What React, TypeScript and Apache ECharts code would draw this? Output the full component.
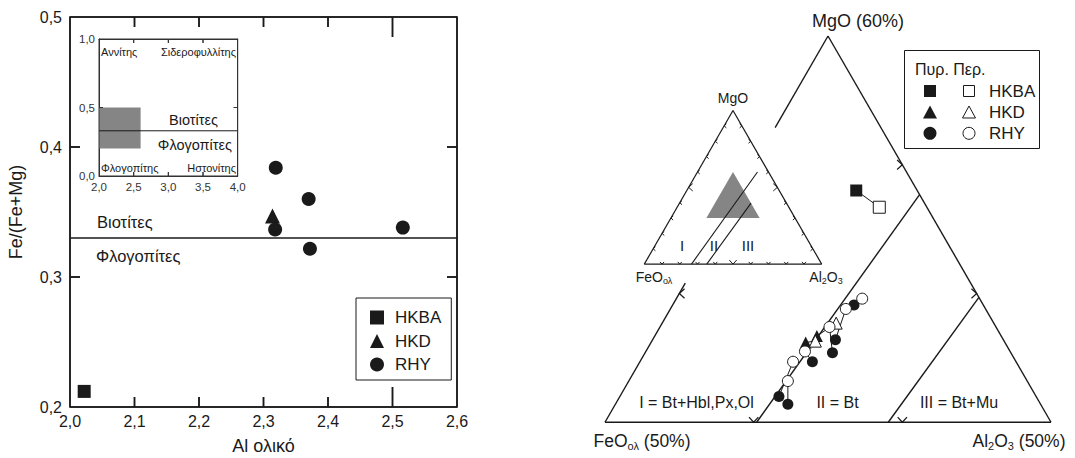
import React, { useEffect, useRef } from 'react';
import * as echarts from 'echarts';

const FONT = '"Liberation Sans", Arial, Helvetica, sans-serif';
const INK = '#1a1a1a';
const GREY = '#858585';
const H = Math.sqrt(3) / 2;

// ---------- Left diagram: Fe/(Fe+Mg) vs Al total ----------
const hkbaPoints = [[2.022, 0.212]];
const hkdPoints = [[2.314, 0.347]];
const rhyPoints = [
  [2.319, 0.384],
  [2.37, 0.36],
  [2.318, 0.3365],
  [2.372, 0.3217],
  [2.516, 0.338],
];
const bioPhlogBoundary = 0.33;
const mainXRange = [2.0, 2.6];
const mainYRange = [0.2, 0.5];
const mainXTicks = [2.1, 2.2, 2.3, 2.4, 2.5];
const mainXMajorTick = [2.5];
const mainYTicks = [0.3, 0.4];
// inset classification diagram
const insetXRange = [2.0, 4.0];
const insetYRange = [0.0, 1.0];
const insetBoxAl = [2.0, 2.6];
const insetBoxFe = [0.2, 0.5];
const insetXTicks = [2.5, 3.0, 3.5];
const insetYTicks = [0.5];

// ---------- Right diagram: MgO - FeOολ - Al2O3 (values [MgO, Al2O3], %) ----------
const hkbaCore = [[48.0, 27.9]];
const hkbaRim = [[46.7, 30.1]];
const hkdCore = [[36.2, 30.4], [36.7, 30.9]];
const hkdRim = [[36.3, 31.0], [37.7, 31.7]];
const rhyCore = [
  [39.1, 32.2],
  [36.4, 32.3],
  [35.4, 32.6],
  [34.7, 31.6],
  [32.0, 30.7],
  [31.4, 31.6],
];
const rhyRim = [
  [39.6, 32.5],
  [38.8, 31.8],
  [37.4, 31.4],
  [35.5, 30.7],
  [34.7, 30.3],
  [33.2, 30.7],
];
// field boundaries I/II and II/III
const fieldLine1 = [[0, 26.6], [60, 33.8]];
const fieldLine2 = [[0, 35.2], [39.7, 40.3]];
// enlarged window (MgO 60%, FeO 50%, Al2O3 50%)
const zoomWindow = [[60, 20], [30, 20], [30, 50]];
const WIN_MGO = 30;
const WIN_AL = 20;
const WIN_SPAN = 30;

// grid boxes (pixels)
const G_MAIN = { left: 70, top: 17, width: 387, height: 390 };
const G_INSET = { left: 99, top: 39, width: 138.7, height: 137 };

const toSmall = (p: number[]) => {
  const a = p[0] / 100;
  const b = p[1] / 100;
  return [b + a / 2, a * H];
};
const normBig = (p: number[]) => [(p[0] - WIN_MGO) / WIN_SPAN, (p[1] - WIN_AL) / WIN_SPAN];
const abToXY = (q: number[]) => [q[1] + q[0] / 2, q[0] * H];
const toBig = (p: number[]) => abToXY(normBig(p));

const clipBig = (p0: number[], p1: number[]) => {
  const A = normBig(p0);
  const B = normBig(p1);
  const fs = [(q: number[]) => q[0], (q: number[]) => q[1], (q: number[]) => 1 - q[0] - q[1]];
  let t0 = 0;
  let t1 = 1;
  for (const f of fs) {
    const v0 = f(A);
    const v1 = f(B);
    if (v0 < 0 && v1 < 0) return null;
    if (v0 < 0) t0 = Math.max(t0, v0 / (v0 - v1));
    if (v1 < 0) t1 = Math.min(t1, v0 / (v0 - v1));
  }
  const L = (t: number) => [A[0] + (B[0] - A[0]) * t, A[1] + (B[1] - A[1]) * t];
  const P = abToXY(L(t0));
  const Q = abToXY(L(t1));
  return [P[0], P[1], Q[0], Q[1]];
};

const fmt = (v: number) => v.toFixed(1).replace('.', ',');

function segSeries(xi: number, yi: number, segs: number[][], width: number, z = 2, color = INK) {
  return {
    type: 'custom',
    xAxisIndex: xi,
    yAxisIndex: yi,
    silent: true,
    z,
    data: segs,
    encode: { x: [0, 2], y: [1, 3] },
    renderItem: (params: any, api: any) => {
      const p1 = api.coord([api.value(0), api.value(1)]);
      const p2 = api.coord([api.value(2), api.value(3)]);
      return {
        type: 'line',
        shape: { x1: p1[0], y1: p1[1], x2: p2[0], y2: p2[1] },
        style: { stroke: color, lineWidth: width },
      };
    },
  };
}

// chevron tick marks: [x, y, dir(0 down,1 left,2 right), size]
function tickSeries(xi: number, yi: number, ticks: number[][], width: number) {
  return {
    type: 'custom',
    xAxisIndex: xi,
    yAxisIndex: yi,
    silent: true,
    data: ticks,
    renderItem: (params: any, api: any) => {
      const p = api.coord([api.value(0), api.value(1)]);
      const d = api.value(2);
      const s = api.value(3);
      const th = (42 * Math.PI) / 180;
      const c = Math.cos(th) * s;
      const n = Math.sin(th) * s;
      let pts;
      if (d === 0) pts = [[p[0] - n, p[1] - c], p, [p[0] + n, p[1] - c]];
      else if (d === 1) pts = [[p[0] + c, p[1] - n], p, [p[0] + c, p[1] + n]];
      else pts = [[p[0] - c, p[1] - n], p, [p[0] - c, p[1] + n]];
      return {
        type: 'polyline',
        shape: { points: pts },
        style: { stroke: INK, fill: null, lineWidth: width },
      };
    },
  };
}

function polySeries(xi: number, yi: number, verts: number[][], color: string) {
  return {
    type: 'custom',
    xAxisIndex: xi,
    yAxisIndex: yi,
    silent: true,
    data: [verts[0]],
    renderItem: (params: any, api: any) => ({
      type: 'polygon',
      shape: { points: verts.map((v) => api.coord(v)) },
      style: { fill: color, stroke: null },
    }),
  };
}

// frame drawn as four "comb" polylines: each side runs along the axis and spikes inward at every tick
function combSeries(xi: number, yi: number, xr: number[], yr: number[], xt: number[], yt: number[],
  xLen: (v: number) => number, yLen: number, width: number, color: string) {
  return {
    type: 'custom',
    xAxisIndex: xi,
    yAxisIndex: yi,
    silent: true,
    z: 6,
    data: [[xr[0], yr[0]]],
    renderItem: (params: any, api: any) => {
      const P = (x: number, y: number) => api.coord([x, y]) as number[];
      const bottom: number[][] = [P(xr[0], yr[0])];
      const top: number[][] = [P(xr[0], yr[1])];
      xt.forEach((v) => {
        const l = xLen(v);
        const b = P(v, yr[0]);
        const t = P(v, yr[1]);
        bottom.push(b, [b[0], b[1] - l], b);
        top.push(t, [t[0], t[1] + l], t);
      });
      bottom.push(P(xr[1], yr[0]));
      top.push(P(xr[1], yr[1]));
      const left: number[][] = [P(xr[0], yr[0])];
      const right: number[][] = [P(xr[1], yr[0])];
      yt.forEach((v) => {
        const a = P(xr[0], v);
        const c = P(xr[1], v);
        left.push(a, [a[0] + yLen, a[1]], a);
        right.push(c, [c[0] - yLen, c[1]], c);
      });
      left.push(P(xr[0], yr[1]));
      right.push(P(xr[1], yr[1]));
      return {
        type: 'group',
        children: [bottom, top, left, right].map((pts) => ({
          type: 'polyline',
          shape: { points: pts },
          style: { stroke: color, fill: null, lineWidth: width },
        })),
      };
    },
  };
}

// inward frame ticks drawn as short line series (data-space endpoints)
function frameTickLines(xi: number, yi: number, g: any, xr: number[], yr: number[], xt: number[], yt: number[],
  xLen: (v: number) => number, yLen: number, width: number, color: string) {
  const xPerPx = (xr[1] - xr[0]) / g.width;
  const yPerPx = (yr[1] - yr[0]) / g.height;
  const segs: number[][][] = [];
  xt.forEach((v) => {
    const l = xLen(v) * yPerPx;
    segs.push([[v, yr[0]], [v, yr[0] + l]]);
    segs.push([[v, yr[1]], [v, yr[1] - l]]);
  });
  yt.forEach((v) => {
    const l = yLen * xPerPx;
    segs.push([[xr[0], v], [xr[0] + l, v]]);
    segs.push([[xr[1], v], [xr[1] - l, v]]);
  });
  return segs.map((s) => ({
    type: 'line',
    xAxisIndex: xi,
    yAxisIndex: yi,
    silent: true,
    symbol: 'none',
    z: 6,
    data: s,
    lineStyle: { color, width },
  }));
}

function scatter(name: string, xi: number, yi: number, data: number[][], symbol: string, size: number, open: boolean, z = 3) {
  return {
    name,
    type: 'scatter',
    xAxisIndex: xi,
    yAxisIndex: yi,
    data,
    symbol,
    symbolSize: size,
    z,
    silent: true,
    itemStyle: open
      ? { color: '#ffffff', borderColor: INK, borderWidth: 1, opacity: 1 }
      : { color: INK, opacity: 1 },
  };
}

function text(x: number, y: number, str: string, size: number, align = 'left', extra: any = {}) {
  return {
    type: 'text',
    x,
    y,
    silent: true,
    style: {
      text: str,
      fontSize: size,
      fontFamily: FONT,
      fill: INK,
      align,
      textAlign: align,
      verticalAlign: 'middle',
      textVerticalAlign: 'middle',
      ...extra,
    },
  };
}

function subText(x: number, y: number, str: string, size: number, subSize: number) {
  return text(x, y, str, size, 'center', {
    rich: {
      n: { fontSize: size, fontFamily: FONT, fill: INK, color: INK, lineHeight: size + 3, verticalAlign: 'middle' },
      s: { fontSize: subSize, fontFamily: FONT, fill: INK, color: INK, lineHeight: subSize - 1, verticalAlign: 'bottom' },
    },
  });
}

function buildOption() {
  const axisLine = { color: INK, width: 1.5 };
  const insetLine = { color: '#333', width: 1 };
  const lbl = { fontSize: 16, color: INK, fontFamily: FONT };
  const mainLen = (v: number) => (mainXMajorTick.includes(v) ? 20 : 10);

  // Big triangle
  const bigOutline = [
    [0, 0, 1, 0],
    [1, 0, 0.5, H],
    [0, 0, 0.36 / 2, 0.36 * H],
    [0.763 / 2, 0.763 * H, 0.5, H],
  ];
  const bigFields = [clipBig(fieldLine1[0], fieldLine1[1]), clipBig(fieldLine2[0], fieldLine2[1])].filter(
    (s) => s
  ) as number[][];
  const bigTicks = [
    [1 / 3, 0, 0, 7],
    [2 / 3, 0, 0, 7],
    [1 - 1 / 6, H / 3, 2, 7],
    [1 - 1 / 3, (2 * H) / 3, 2, 7],
    [1 / 6, H / 3, 1, 7],
  ];
  const bigTies: number[][] = [];
  const pairUp = (cores: number[][], rims: number[][]) =>
    cores.forEach((c, i) => {
      const a = toBig(c);
      const b = toBig(rims[i]);
      bigTies.push([a[0], a[1], b[0], b[1]]);
    });
  pairUp(hkbaCore, hkbaRim);
  pairUp(hkdCore, hkdRim);
  pairUp(rhyCore, rhyRim);

  // Small triangle
  const smallOutline = [
    [0, 0, 1, 0],
    [1, 0, 0.5, H],
    [0, 0, 0.5, H],
  ];
  const smallFields = [fieldLine1, fieldLine2].map((l) => {
    const a = toSmall(l[0]);
    const b = toSmall(l[1]);
    return [a[0], a[1], b[0], b[1]];
  });
  const smallTicks: number[][] = [];
  for (let i = 1; i <= 9; i++) {
    const f = i / 10;
    const s = i === 5 ? 5.5 : 3;
    smallTicks.push([f, 0, 0, s]);
    smallTicks.push([f / 2, f * H, 1, s]);
    smallTicks.push([1 - f / 2, f * H, 2, s]);
  }

  const plainAxis = (extra: any) => ({
    type: 'value',
    axisTick: { show: false },
    splitLine: { show: false },
    ...extra,
  });

  return {
    animation: false,
    backgroundColor: '#ffffff',
    textStyle: { fontFamily: FONT },
    grid: [
      { ...G_MAIN, containLabel: false, outerBoundsMode: 'none' },
      { ...G_INSET, containLabel: false, outerBoundsMode: 'none' },
      { left: 605, top: 36, width: 446, height: 446 * H, containLabel: false, outerBoundsMode: 'none' },
      { left: 644.3, top: 110.5, width: 177.4, height: 177.4 * H, containLabel: false, outerBoundsMode: 'none' },
    ],
    xAxis: [
      plainAxis({
        gridIndex: 0, min: mainXRange[0], max: mainXRange[1], interval: 0.1, position: 'bottom',
        axisLine: { show: true, onZero: false, lineStyle: axisLine },
        axisLabel: { ...lbl, margin: 6, formatter: fmt, showMinLabel: true, showMaxLabel: true },
        name: 'Al ολικό', nameLocation: 'middle', nameGap: 30,
        nameTextStyle: { fontSize: 18, color: INK, fontFamily: FONT },
      }),
      plainAxis({
        gridIndex: 0, min: mainXRange[0], max: mainXRange[1], interval: 0.1, position: 'top',
        axisLine: { show: true, onZero: false, lineStyle: axisLine },
        axisLabel: { show: false },
      }),
      plainAxis({
        gridIndex: 1, min: insetXRange[0], max: insetXRange[1], interval: 0.5, position: 'bottom',
        axisLine: { show: true, onZero: false, lineStyle: insetLine },
        axisLabel: { fontSize: 11.5, color: '#333', fontFamily: FONT, margin: 5, formatter: fmt },
      }),
      plainAxis({
        gridIndex: 1, min: insetXRange[0], max: insetXRange[1], interval: 0.5, position: 'top',
        axisLine: { show: true, onZero: false, lineStyle: insetLine },
        axisLabel: { show: false },
      }),
      { gridIndex: 2, type: 'value', min: 0, max: 1, show: false },
      { gridIndex: 3, type: 'value', min: 0, max: 1, show: false },
    ],
    yAxis: [
      plainAxis({
        gridIndex: 0, min: mainYRange[0], max: mainYRange[1], interval: 0.1, position: 'left',
        axisLine: { show: true, onZero: false, lineStyle: axisLine },
        axisLabel: { ...lbl, margin: 8, formatter: fmt, showMinLabel: true, showMaxLabel: true },
        name: 'Fe/(Fe+Mg)', nameLocation: 'middle', nameGap: 45,
        nameTextStyle: { fontSize: 18, color: INK, fontFamily: FONT },
      }),
      plainAxis({
        gridIndex: 0, min: mainYRange[0], max: mainYRange[1], interval: 0.1, position: 'right',
        axisLine: { show: true, onZero: false, lineStyle: axisLine },
        axisLabel: { show: false },
      }),
      plainAxis({
        gridIndex: 1, min: insetYRange[0], max: insetYRange[1], interval: 0.5, position: 'left',
        axisLine: { show: true, onZero: false, lineStyle: insetLine },
        axisLabel: { fontSize: 11.5, color: '#333', fontFamily: FONT, margin: 4, formatter: fmt },
      }),
      plainAxis({
        gridIndex: 1, min: insetYRange[0], max: insetYRange[1], interval: 0.5, position: 'right',
        axisLine: { show: true, onZero: false, lineStyle: insetLine },
        axisLabel: { show: false },
      }),
      { gridIndex: 2, type: 'value', min: 0, max: H, show: false },
      { gridIndex: 3, type: 'value', min: 0, max: H, show: false },
    ],
    legend: {
      data: ['HKBA', 'HKD', 'RHY'],
      orient: 'vertical',
      left: 356,
      top: 298,
      padding: [11, 10, 7, 14],
      itemGap: 6.5,
      itemWidth: 14,
      itemHeight: 14,
      borderColor: INK,
      borderWidth: 1,
      backgroundColor: '#ffffff',
      selectedMode: false,
      textStyle: { fontSize: 17, color: INK, fontFamily: FONT, padding: [0, 0, 0, 6] },
    },
    series: [
      // left main
      {
        type: 'line', xAxisIndex: 0, yAxisIndex: 0, silent: true, symbol: 'none',
        data: [[mainXRange[0], bioPhlogBoundary], [mainXRange[1], bioPhlogBoundary]],
        lineStyle: { color: INK, width: 1.5 },
      },
      combSeries(0, 0, mainXRange, mainYRange, mainXTicks, mainYTicks, mainLen, 10, 1.5, INK),
      ...frameTickLines(0, 0, G_MAIN, mainXRange, mainYRange, mainXTicks, mainYTicks, mainLen, 10, 1.5, INK),
      scatter('HKBA', 0, 0, hkbaPoints, 'rect', 13, false),
      scatter('HKD', 0, 0, hkdPoints, 'triangle', 15, false),
      scatter('RHY', 0, 0, rhyPoints, 'circle', 14, false),
      // inset
      polySeries(2, 2, [
        [insetBoxAl[0], insetBoxFe[0]],
        [insetBoxAl[1], insetBoxFe[0]],
        [insetBoxAl[1], insetBoxFe[1]],
        [insetBoxAl[0], insetBoxFe[1]],
      ], GREY),
      {
        type: 'line', xAxisIndex: 2, yAxisIndex: 2, silent: true, symbol: 'none', z: 3,
        data: [[insetXRange[0], bioPhlogBoundary], [insetXRange[1], bioPhlogBoundary]],
        lineStyle: { color: INK, width: 1 },
      },
      combSeries(2, 2, insetXRange, insetYRange, insetXTicks, insetYTicks, () => 4, 4, 1, '#333'),
      // right big triangle
      segSeries(4, 4, bigOutline, 1.4),
      segSeries(4, 4, bigFields, 1.4),
      tickSeries(4, 4, bigTicks, 1.2),
      segSeries(4, 4, bigTies, 1, 3),
      // right small triangle
      polySeries(5, 5, zoomWindow.map(toSmall), GREY),
      segSeries(5, 5, smallOutline, 1.2),
      segSeries(5, 5, smallFields, 1.1),
      tickSeries(5, 5, smallTicks, 1),
      // data
      scatter('HKBA πυρ.', 4, 4, hkbaCore.map(toBig), 'rect', 12, false, 4),
      scatter('HKD πυρ.', 4, 4, hkdCore.map(toBig), 'triangle', 12, false, 4),
      scatter('RHY πυρ.', 4, 4, rhyCore.map(toBig), 'circle', 11, false, 4),
      scatter('HKBA περ.', 4, 4, hkbaRim.map(toBig), 'rect', 12, true, 5),
      scatter('HKD περ.', 4, 4, hkdRim.map(toBig), 'triangle', 12, true, 5),
      scatter('RHY περ.', 4, 4, rhyRim.map(toBig), 'circle', 11, true, 5),
    ],
    graphic: [
      // left main labels
      text(97, 222, 'Βιοτίτες', 16.5),
      text(96, 256, 'Φλογοπίτες', 16.5),
      // inset labels
      text(101, 52, 'Αννίτης', 11),
      text(236, 52, 'Σιδεροφυλλίτης', 11, 'right'),
      text(218, 120, 'Βιοτίτες', 14.5, 'right'),
      text(232, 145, 'Φλογοπίτες', 14.5, 'right'),
      text(101, 168, 'Φλογοπίτης', 11),
      text(236, 168, 'Ηστονίτης', 11, 'right'),
      // right big labels
      text(858, 21, 'MgO (60%)', 18, 'center'),
      subText(642, 441, '{n|FeO}{s|ολ}{n| (50%)}', 17.5, 11),
      subText(1019, 441, '{n|Al}{s|2}{n|O}{s|3}{n| (50%)}', 17.5, 11),
      text(696.5, 402.5, 'I = Bt+Hbl,Px,Ol', 16, 'center'),
      text(837.5, 402.5, 'II = Bt', 16, 'center'),
      text(959, 402.5, 'III = Bt+Mu', 16, 'center'),
      // small triangle labels
      text(733, 98, 'MgO', 14, 'center'),
      subText(654, 277, '{n|FeO}{s|ολ}', 14, 9),
      subText(826, 277, '{n|Al}{s|2}{n|O}{s|3}', 14, 9),
      text(682, 245, 'I', 15, 'center'),
      text(714, 245, 'II', 15, 'center'),
      text(748, 245, 'III', 15, 'center'),
      // right legend
      {
        type: 'rect', silent: true,
        shape: { x: 904.5, y: 50.5, width: 135, height: 98 },
        style: { fill: '#ffffff', stroke: INK, lineWidth: 1 },
      },
      text(915, 69, 'Πυρ. Περ.', 16),
      { type: 'rect', silent: true, shape: { x: 924, y: 85, width: 12, height: 12 }, style: { fill: INK } },
      { type: 'rect', silent: true, shape: { x: 963.5, y: 85.5, width: 11, height: 11 }, style: { fill: '#fff', stroke: INK, lineWidth: 1 } },
      text(989, 91, 'HKBA', 17),
      { type: 'polygon', silent: true, shape: { points: [[930, 105.5], [937, 118.5], [923, 118.5]] }, style: { fill: INK } },
      { type: 'polygon', silent: true, shape: { points: [[969, 106], [975.5, 118], [962.5, 118]] }, style: { fill: '#fff', stroke: INK, lineWidth: 1 } },
      text(989, 112, 'HKD', 17),
      { type: 'circle', silent: true, shape: { cx: 930, cy: 133.3, r: 6.5 }, style: { fill: INK } },
      { type: 'circle', silent: true, shape: { cx: 969, cy: 133.3, r: 6 }, style: { fill: '#fff', stroke: INK, lineWidth: 1 } },
      text(989, 133, 'RHY', 17),
    ],
  };
}

export default function App() {
  const ref = useRef<HTMLDivElement>(null);
  useEffect(() => {
    const chart = echarts.init(ref.current as HTMLDivElement, null, { renderer: 'svg' });
    chart.setOption(buildOption() as any);
    return () => chart.dispose();
  }, []);
  return (
    <div
      ref={ref}
      style={{ position: 'absolute', left: 0, top: 0, width: 1075, height: 458, background: '#fff' }}
    />
  );
}
